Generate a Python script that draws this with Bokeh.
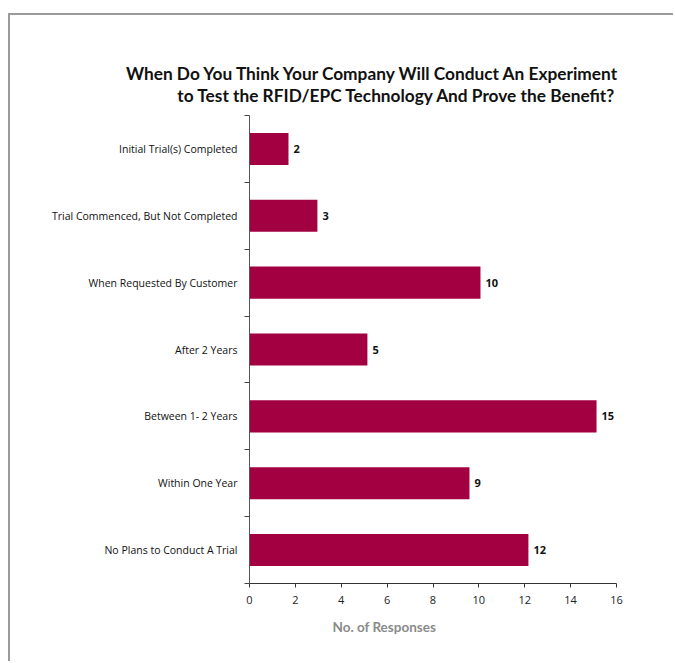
from bokeh.plotting import figure
from bokeh.models import Range1d, FixedTicker, Title, ColumnDataSource
from bokeh.core.properties import value
from bokeh.embed import file_html
from bokeh.resources import INLINE

categories = [
    "Initial Trial(s) Completed",
    "Trial Commenced, But Not Completed",
    "When Requested By Customer",
    "After 2 Years",
    "Between 1- 2 Years",
    "Within One Year",
    "No Plans to Conduct A Trial",
]
bar_lengths = [1.70, 2.96, 10.07, 5.14, 15.13, 9.59, 12.16]
value_labels = ["2", "3", "10", "5", "15", "9", "12"]
x_ticks = [0, 2, 4, 6, 8, 10, 12, 14, 16]
title_lines = [
    "When Do You Think Your Company Will Conduct An Experiment",
    "to Test the RFID/EPC Technology And  Prove the Benefit?",
]
x_title = "No. of Responses"

n = len(categories)
centers = [i + 0.5 for i in range(n)]

# outer frame: CSS border on the top/left of the figure element
BX, BY = 10, 15
p = figure(width=675 - BX, height=663 - BY, output_backend="svg", toolbar_location=None,
           x_range=Range1d(0, 16), y_range=Range1d(n, 0),
           min_border_left=249 - BX, min_border_right=59, min_border_top=115 - BY,
           min_border_bottom=80)
p.styles = {"margin-left": "8px", "margin-top": "13px",
            "border-top": "2px solid #9a9a9a", "border-left": "2px solid #9a9a9a"}
p.background_fill_color = "white"
p.border_fill_color = "white"
p.outline_line_color = None
p.xgrid.visible = False
p.ygrid.visible = False

src = ColumnDataSource(dict(y=centers, right=bar_lengths, lab=value_labels))
p.hbar(y="y", left=0, right="right", height=0.48, source=src,
       fill_color="#A30041", line_color=None)
p.text(x="right", y="y", text="lab", source=src, x_offset=5,
       text_baseline="middle", text_align="left", text_font_size="11px",
       text_font_style="bold", text_color="#111111", text_font=value("Open Sans"))

# y axis
ya = p.yaxis[0]
ya.ticker = FixedTicker(ticks=centers, minor_ticks=list(range(n + 1)))
ya.major_label_overrides = {c: cat for c, cat in zip(centers, categories)}
ya.major_tick_out = 0
ya.major_tick_in = 0
ya.minor_tick_out = 5
ya.minor_tick_in = 0
ya.minor_tick_line_color = "#444444"
ya.axis_line_color = "#555555"
ya.major_label_standoff = 7
ya.major_label_text_font = "Open Sans"
ya.major_label_text_font_size = "10.5px"
ya.major_label_text_color = "#111111"

# x axis
xa = p.xaxis[0]
xa.ticker = FixedTicker(ticks=x_ticks, minor_ticks=[])
xa.major_tick_out = 4
xa.major_tick_in = 0
xa.major_tick_line_color = "#333333"
xa.axis_line_color = "#333333"
xa.major_label_standoff = 8
xa.major_label_text_font = "Open Sans"
xa.major_label_text_font_size = "11px"
xa.major_label_text_color = "#222222"

# title lines, each right aligned (line nearest the plot added first)
p.add_layout(Title(text=title_lines[1], align="right", offset=-4, standoff=20,
                   text_font="Lato", text_font_style="bold",
                   text_font_size="17.3px", text_color="#111111"), "above")
p.add_layout(Title(text=title_lines[0], align="right", offset=-4, standoff=-22,
                   text_font="Lato", text_font_style="bold",
                   text_font_size="17.3px", text_color="#111111"), "above")
p.add_layout(Title(text=x_title, align="left", offset=83, standoff=20,
                   text_font="Lato", text_font_style="bold",
                   text_font_size="13.5px", text_color="#8a8a8a"), "below")

open("out.html", "w").write(file_html(p, INLINE))
